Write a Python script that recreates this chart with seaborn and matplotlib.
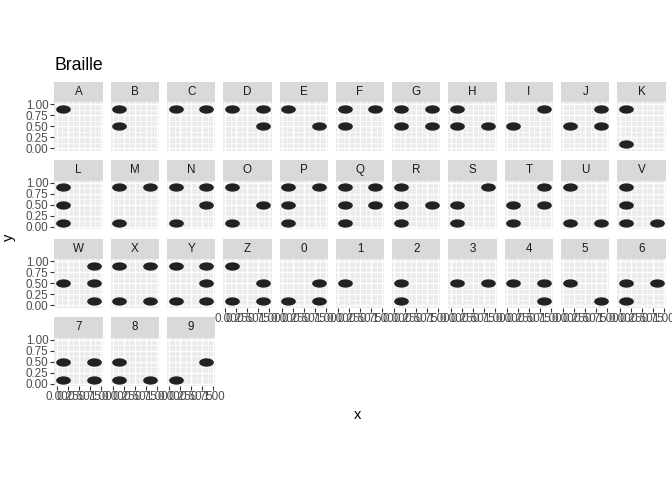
import numpy as np
import pandas as pd
import matplotlib
matplotlib.use('Agg')
import matplotlib.pyplot as plt
from matplotlib.path import Path
from matplotlib.patches import Rectangle
import seaborn as sns

# ============================================================
# Data: braille cells (dots 1-3 left column top->bottom, 4-6 right)
# ============================================================
CHARS = list("ABCDEFGHIJKLMNOPQRSTUVWXYZ0123456789")
DOTS = ["1", "12", "14", "145", "15", "124", "1245", "125", "24", "245",
        "13", "123", "134", "1345", "135", "1234", "12345", "1235", "234", "2345",
        "136", "1236", "2456", "1346", "13456", "1356",
        "356", "2", "23", "25", "256", "26", "235", "2356", "236", "35"]
DOT_X = {1: 0.15, 2: 0.15, 3: 0.15, 4: 0.85, 5: 0.85, 6: 0.85}
DOT_Y = {1: 0.9, 2: 0.5, 3: 0.1, 4: 0.9, 5: 0.5, 6: 0.1}
TICKS = [0.0, 0.25, 0.5, 0.75, 1.0]

rows = []
for ch, dots in zip(CHARS, DOTS):
    for d in dots:
        rows.append({'char': ch, 'x': DOT_X[int(d)], 'y': DOT_Y[int(d)]})
df = pd.DataFrame(rows)

FONT = ['Liberation Sans', 'DejaVu Sans']
plt.rcParams['font.family'] = FONT

# ellipse-shaped point marker
circ = Path.unit_circle()
ELLIPSE = Path(circ.vertices * np.array([1.0, 0.565]), circ.codes)

NCOL = 11
g = sns.FacetGrid(df, col='char', col_order=CHARS, col_wrap=NCOL,
                  sharex=True, sharey=True, despine=False, height=1, aspect=1)
g.map_dataframe(sns.scatterplot, x='x', y='y', marker=ELLIPSE, s=112,
                color='#222222', linewidth=0)
g.set_titles("")
g.set_axis_labels("", "")

fig = g.figure
fig.set_size_inches(6.72, 4.8)
W, H = 672.0, 480.0

# layout in pixels
LEFT0, PITCH_X, PW = 54.3, 56.3, 48.4
TOP0, PITCH_Y, SH, PH = 81.7, 78.5, 20.5, 48.5
n = len(CHARS)

for i, (ax, ch) in enumerate(zip(g.axes.flat, CHARS)):
    r, c = divmod(i, NCOL)
    top = TOP0 + r * PITCH_Y
    ax.set_position([(LEFT0 + c * PITCH_X) / W, 1 - (top + SH + PH) / H, PW / W, PH / H])
    ax.set_facecolor('#EBEBEB')
    for s in ax.spines.values():
        s.set_visible(False)
    ax.set_xlim(-0.05, 1.05)
    ax.set_ylim(-0.05, 1.05)
    ax.set_xticks(TICKS)
    ax.set_yticks(TICKS)
    ax.set_xticks([0.125, 0.375, 0.625, 0.875], minor=True)
    ax.set_yticks([0.125, 0.375, 0.625, 0.875], minor=True)
    ax.set_xticklabels([f"{t:.2f}" for t in TICKS])
    ax.set_yticklabels([f"{t:.2f}" for t in TICKS])
    ax.grid(which='major', color='white', linewidth=1.0)
    ax.grid(which='minor', color='white', linewidth=0.5)
    ax.set_axisbelow(True)
    ax.set_xlabel("")
    ax.set_ylabel("")
    ax.tick_params(which='minor', length=0)

    bottom = i >= n - NCOL
    left = c == 0
    ax.tick_params(axis='x', which='major', bottom=bottom, labelbottom=bottom,
                   length=2.6, width=0.8, color='#333333', pad=1,
                   labelsize=8.4, labelcolor='#4D4D4D')
    ax.tick_params(axis='y', which='major', left=left, labelleft=left,
                   length=2.6, width=0.8, color='#333333', pad=1.5,
                   labelsize=8.4, labelcolor='#4D4D4D')
    for lab in ax.get_xticklabels() + ax.get_yticklabels():
        lab.set_visible(True)
    if not bottom:
        ax.tick_params(axis='x', labelbottom=False)
    if not left:
        ax.tick_params(axis='y', labelleft=False)

    # facet strip
    sh = SH / PH
    ax.add_patch(Rectangle((0, 1), 1, sh, transform=ax.transAxes,
                           facecolor='#D9D9D9', edgecolor='none', clip_on=False))
    ax.text(0.5, 1 + sh / 2, ch, transform=ax.transAxes, ha='center', va='center',
            fontsize=8.4, color='#1A1A1A')

fig.text(54 / W, 1 - 70.5 / H, "Braille", fontsize=12.7, va='baseline', ha='left')
fig.text(358 / W, 1 - 415 / H, "x", fontsize=10.6, ha='center', va='center')
fig.text(9 / W, 1 - 237 / H, "y", fontsize=10.6, ha='center', va='center', rotation=90)

fig.savefig('out.png', dpi=100)
